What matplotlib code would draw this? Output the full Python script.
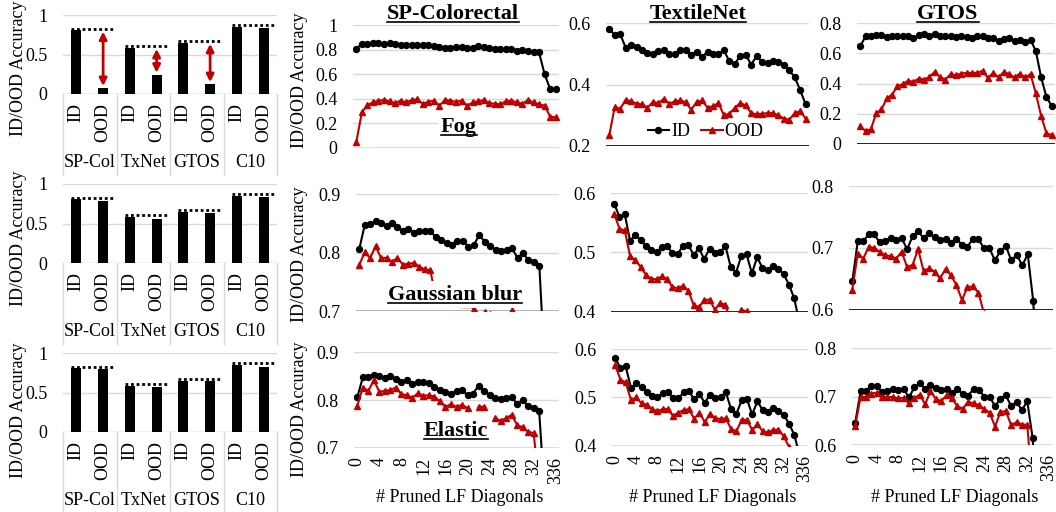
import matplotlib
matplotlib.use("Agg")
import matplotlib.pyplot as plt
from matplotlib.lines import Line2D
import numpy as np

plt.rcParams['font.family'] = ['Liberation Serif', 'DejaVu Serif']
plt.rcParams['font.size'] = 13

W, H = 1056, 512
GRID = '#d9d9d9'
RED = '#c00000'
NA = np.nan

# ---------------- bar panels (clean vs. corrupted accuracy) ----------------
BAR_TICKS = ["ID", "OOD"] * 4
DATASETS_SHORT = ["SP-Col", "TxNet", "GTOS", "C10"]
BAR_ID = [0.81, 0.585, 0.65, 0.85]
BAR_REF = [0.825, 0.605, 0.67, 0.875]
BAR_OOD_FOG = [0.075, 0.245, 0.125, 0.84]
BAR_OOD_BLUR = [0.78, 0.56, 0.635, 0.835]
BAR_OOD_ELASTIC = [0.795, 0.57, 0.645, 0.825]
ARROW_GROUPS_FOG = [0, 1, 2]

# ---------------- line panels (accuracy vs. pruned diagonals) ----------------
PRUNED_LABELS = [str(i) for i in range(36)] + ["336"]
DATASETS = ["SP-Colorectal", "TextileNet", "GTOS"]
CORRUPTIONS = ["Fog", "Gaussian blur", "Elastic"]

ID_SPCOL = [0.806, 0.847, 0.848, 0.853, 0.85, 0.845, 0.851, 0.843, 0.837, 0.841,
            0.834, 0.837, 0.837, 0.836, 0.827, 0.821, 0.817, 0.813, 0.819, 0.82,
            0.81, 0.813, 0.83, 0.818, 0.811, 0.805, 0.803, 0.804, 0.807, 0.791,
            0.799, 0.787, 0.784, 0.777, 0.60, 0.48, 0.48]
ID_TEXTILE = [0.582, 0.56, 0.564, 0.52, 0.529, 0.521, 0.511, 0.504, 0.50, 0.509,
              0.511, 0.499, 0.498, 0.511, 0.513, 0.496, 0.507, 0.489, 0.506, 0.499,
              0.50, 0.511, 0.476, 0.466, 0.494, 0.497, 0.465, 0.492, 0.474, 0.47,
              0.478, 0.472, 0.464, 0.446, 0.423, 0.381, 0.335]
ID_GTOS = [0.646, 0.711, 0.711, 0.722, 0.722, 0.709, 0.712, 0.716, 0.713, 0.716,
           0.698, 0.719, 0.727, 0.716, 0.724, 0.717, 0.713, 0.715, 0.708, 0.715,
           0.705, 0.702, 0.715, 0.714, 0.70, 0.70, 0.68, 0.695, 0.703, 0.68,
           0.689, 0.672, 0.69, 0.614, 0.44, 0.31, 0.25]

OOD_FOG_SPCOL = [0.05, 0.29, 0.35, 0.37, 0.385, 0.39, 0.38, 0.365, 0.385, 0.37,
                 0.39, 0.395, 0.36, 0.375, 0.385, 0.345, 0.39, 0.385, 0.375, 0.385,
                 0.345, 0.37, 0.38, 0.39, 0.365, 0.36, 0.355, 0.38, 0.385, 0.37,
                 0.36, 0.39, 0.37, 0.355, 0.345, 0.255, 0.25]
OOD_FOG_TEXTILE = [0.235, 0.327, 0.321, 0.35, 0.345, 0.338, 0.335, 0.325, 0.343, 0.34,
                   0.353, 0.338, 0.345, 0.348, 0.343, 0.318, 0.343, 0.348, 0.325, 0.329,
                   0.34, 0.30, 0.305, 0.324, 0.34, 0.332, 0.307, 0.303, 0.305, 0.307,
                   0.307, 0.30, 0.289, 0.286, 0.307, 0.313, 0.289]
OOD_FOG_GTOS = [0.119, 0.086, 0.097, 0.202, 0.229, 0.301, 0.327, 0.382, 0.396, 0.418,
                0.411, 0.433, 0.426, 0.444, 0.477, 0.444, 0.426, 0.462, 0.455, 0.466,
                0.47, 0.47, 0.47, 0.484, 0.437, 0.47, 0.44, 0.477, 0.462, 0.44,
                0.466, 0.44, 0.462, 0.334, 0.185, 0.07, 0.06]

OOD_BLUR_SPCOL = [0.779, 0.80, 0.791, 0.811, 0.79, 0.791, 0.784, 0.791, 0.779, 0.781,
                  0.782, 0.776, 0.771, 0.77, 0.725, 0.72, 0.718, 0.715, 0.714, 0.712,
                  0.712, 0.703, 0.69, 0.699, 0.695, 0.69, 0.688, 0.692, 0.701, 0.68,
                  0.675, 0.67, 0.665, 0.66, 0.5, 0.3, 0.25]
OOD_BLUR_TEXTILE = [0.565, 0.54, 0.537, 0.494, 0.487, 0.476, 0.462, 0.456, 0.455, 0.46,
                    0.455, 0.442, 0.44, 0.444, 0.436, 0.412, 0.408, 0.42, 0.421, 0.404,
                    0.415, 0.412, 0.385, 0.39, 0.404, 0.401, 0.385, 0.39, 0.38, 0.375,
                    0.38, 0.37, 0.365, 0.35, 0.33, 0.30, 0.26]
OOD_BLUR_GTOS = [0.633, 0.691, 0.683, 0.702, 0.70, 0.694, 0.688, 0.687, 0.683, 0.694,
                 0.669, 0.673, 0.698, 0.663, 0.667, 0.662, 0.651, 0.666, 0.656, 0.64,
                 0.616, 0.637, 0.638, 0.628, 0.595, 0.58, 0.575, 0.57, 0.56, 0.555,
                 0.55, 0.545, 0.54, 0.45, 0.3, 0.2, 0.15]

# missing runs are left empty (NA), which breaks the line
OOD_ELASTIC_SPCOL = [0.788, 0.826, 0.819, 0.841, 0.817, 0.819, 0.821, 0.826, 0.812, 0.81,
                     0.805, 0.814, 0.809, 0.81, 0.807, 0.797, 0.786, 0.791, 0.786, 0.79,
                     0.783, NA, 0.786, 0.786, NA, 0.762, 0.757, 0.762, 0.769, 0.748,
                     0.743, 0.734, 0.731, 0.62, 0.45, 0.4, 0.4]
OOD_ELASTIC_TEXTILE = [0.567, 0.537, 0.531, 0.495, 0.50, 0.488, 0.485, 0.476, 0.472, 0.476,
                       0.476, 0.462, 0.469, 0.474, 0.476, 0.456, 0.469, 0.449, 0.467, 0.457,
                       0.456, 0.457, 0.435, 0.43, 0.454, 0.454, 0.433, 0.445, 0.43, 0.428,
                       0.433, 0.434, 0.42, 0.398, 0.37, 0.33, 0.29]
OOD_ELASTIC_GTOS = [0.64, 0.699, 0.699, 0.706, 0.708, 0.699, 0.699, 0.699, 0.696, 0.697,
                    0.686, 0.696, 0.704, 0.684, 0.711, 0.695, 0.69, 0.703, 0.696, 0.68,
                    0.675, 0.689, 0.686, 0.682, 0.674, 0.667, 0.638, 0.668, 0.67, 0.641,
                    0.647, 0.642, 0.642, 0.5, 0.35, 0.2, 0.12]

ID_SERIES = [ID_SPCOL, ID_TEXTILE, ID_GTOS]
OOD_SERIES = [[OOD_FOG_SPCOL, OOD_FOG_TEXTILE, OOD_FOG_GTOS],
              [OOD_BLUR_SPCOL, OOD_BLUR_TEXTILE, OOD_BLUR_GTOS],
              [OOD_ELASTIC_SPCOL, OOD_ELASTIC_TEXTILE, OOD_ELASTIC_GTOS]]
Y_RANGES = [[(0.0, 1.0, 0.2), (0.2, 0.6, 0.2), (0.0, 0.8, 0.2)],
            [(0.7, 0.9, 0.1), (0.4, 0.6, 0.1), (0.6, 0.8, 0.1)],
            [(0.7, 0.9, 0.1), (0.4, 0.6, 0.1), (0.6, 0.8, 0.1)]]

fig = plt.figure(figsize=(W / 100, H / 100), dpi=100)


def px_axes(l, t, r, b):
    return fig.add_axes([l / W, 1 - b / H, (r - l) / W, (b - t) / H])


def fmt(v):
    return f"{round(v, 3):g}"


# ---------------- bar panels ----------------
bar_rows = [((15, 94), BAR_OOD_FOG, 68), ((184, 263), BAR_OOD_BLUR, 238),
            ((353, 432), BAR_OOD_ELASTIC, 410)]
for r, ((top, bot), ood, lab_y) in enumerate(bar_rows):
    ax = px_axes(63, top, 277, bot)
    heights = [v for pair in zip(BAR_ID, ood) for v in pair]
    xs = np.arange(len(heights))
    ax.bar(xs, heights, width=0.37, color='black', zorder=3)
    ax.set_xlim(-0.5, len(heights) - 0.5)
    ax.set_ylim(0, 1)
    ax.set_yticks([0, 0.5, 1])
    ax.set_yticklabels([fmt(v) for v in [0, 0.5, 1]])
    ax.set_xticks(xs)
    ax.set_xticklabels(BAR_TICKS, rotation=90)
    ax.tick_params(axis='y', length=0, pad=11)
    ax.tick_params(axis='x', length=0, pad=6.5)
    for s in ax.spines.values():
        s.set_visible(False)
    ax.grid(axis='y', color=GRID, lw=1)
    ax.set_axisbelow(True)
    ax.axhline(0, color=GRID, lw=1, zorder=1)
    xt = ax.get_xaxis_transform()
    for xb in np.arange(-0.5, len(heights), 2):
        ax.plot([xb, xb], [0, -1.02], transform=xt, color=GRID, lw=1, clip_on=False)
    for g, name in enumerate(DATASETS_SHORT):
        ax.text(2 * g + 0.5, -0.87, name, transform=xt, ha='center', va='center')
        ax.plot([2 * g - 0.2, 2 * g + 1.45], [BAR_REF[g]] * 2, color='black',
                ls=(0, (1, 1)), lw=2, zorder=4)
    if r == 0:
        for g in ARROW_GROUPS_FOG:
            ax.annotate('', xy=(2 * g + 1, ood[g] + 0.025),
                        xytext=(2 * g + 1, BAR_REF[g] - 0.035),
                        arrowprops=dict(arrowstyle='<|-|>', color=RED, lw=2,
                                        mutation_scale=11, shrinkA=0, shrinkB=0))
    fig.text(19 / W, 1 - lab_y / H, 'ID/OOD Accuracy', rotation=90,
             ha='center', va='center', fontsize=13)

# ---------------- line panels ----------------
rects = [[(353, 25, 559, 148), (606, 23, 809, 146), (857, 23, 1055, 144)],
         [(356, 194, 559, 311), (611, 193, 808, 312), (849, 186, 1053, 310)],
         [(354, 352, 559, 448), (612, 349, 808, 446), (852, 348, 1052, 445)]]
axis_colors = [[GRID, 'black', 'black'],
               ['#a6a6a6', 'black', 'black'],
               [GRID, GRID, GRID]]
ylabel_y = [80, 254, 409]
xs = np.arange(len(PRUNED_LABELS))
for r in range(3):
    for c in range(3):
        ax = px_axes(*rects[r][c])
        lo, hi, step = Y_RANGES[r][c]
        ax.plot(xs, ID_SERIES[c], color='black', lw=1.5, marker='o', ms=4.3, zorder=3)
        ax.plot(xs, OOD_SERIES[r][c], color=RED, lw=1.5, marker='^', ms=4.6, zorder=3)
        ax.set_xlim(-0.6, len(xs) - 0.4)
        ax.set_ylim(lo, hi)
        ticks = np.arange(lo, hi + step / 2, step)
        ax.set_yticks(ticks)
        ax.set_yticklabels([fmt(v) for v in ticks])
        for s in ax.spines.values():
            s.set_visible(False)
        ax.grid(axis='y', color=GRID, lw=1)
        ax.set_axisbelow(True)
        ax.axhline(lo, color=axis_colors[r][c], lw=1.2, zorder=2)
        ax.tick_params(axis='y', length=0, pad=11)
        ax.set_xticks(xs[::4])
        if r == 2:
            ax.set_xticklabels(PRUNED_LABELS[::4], rotation=90)
            ax.tick_params(axis='x', length=0, pad=6.5)
            l, t, rr, b = rects[r][c]
            fig.text(((l + rr) / 2 + 3) / W, 1 - 502 / H, '# Pruned LF Diagonals',
                     ha='center', va='baseline', fontsize=13)
        else:
            ax.set_xticklabels([])
            ax.tick_params(axis='x', length=0)
        if c == 0:
            fig.text(300 / W, 1 - ylabel_y[r] / H, 'ID/OOD Accuracy', rotation=90,
                     ha='center', va='center', fontsize=13)
        if r == 0 and c == 1:
            handles = [Line2D([], [], color='black', lw=1.5, marker='o', ms=4.3),
                       Line2D([], [], color=RED, lw=1.5, marker='^', ms=4.6)]
            ax.legend(handles, ['ID', 'OOD'], loc='center', bbox_to_anchor=(0.49, 0.115),
                      ncol=2, frameon=False, handlelength=1.2, handletextpad=0.1,
                      columnspacing=0.6, borderpad=0, fontsize=13)

# ---------------- bold underlined headings ----------------
headings = [(453, 19, DATASETS[0], False), (698, 19, DATASETS[1], False),
            (948, 19, DATASETS[2], False),
            (459, 132, CORRUPTIONS[0], True), (455, 299.5, CORRUPTIONS[1], True),
            (456, 436, CORRUPTIONS[2], True)]
texts = []
for x, base, s, boxed in headings:
    kw = {}
    if boxed:
        kw['bbox'] = dict(boxstyle='square,pad=0.15', facecolor='white', edgecolor='none')
    t = fig.text(x / W, 1 - base / H, s, ha='center', va='baseline', fontsize=16,
                 fontweight='bold', zorder=4, **kw)
    texts.append((t, base))

fig.canvas.draw()
for t, base in texts:
    bb = t.get_window_extent()
    y = 1 - (base + 3) / H
    fig.add_artist(Line2D([bb.x0 / W, bb.x1 / W], [y, y], transform=fig.transFigure,
                          color='black', lw=1.2, zorder=5))

fig.savefig('out.png', dpi=100)
